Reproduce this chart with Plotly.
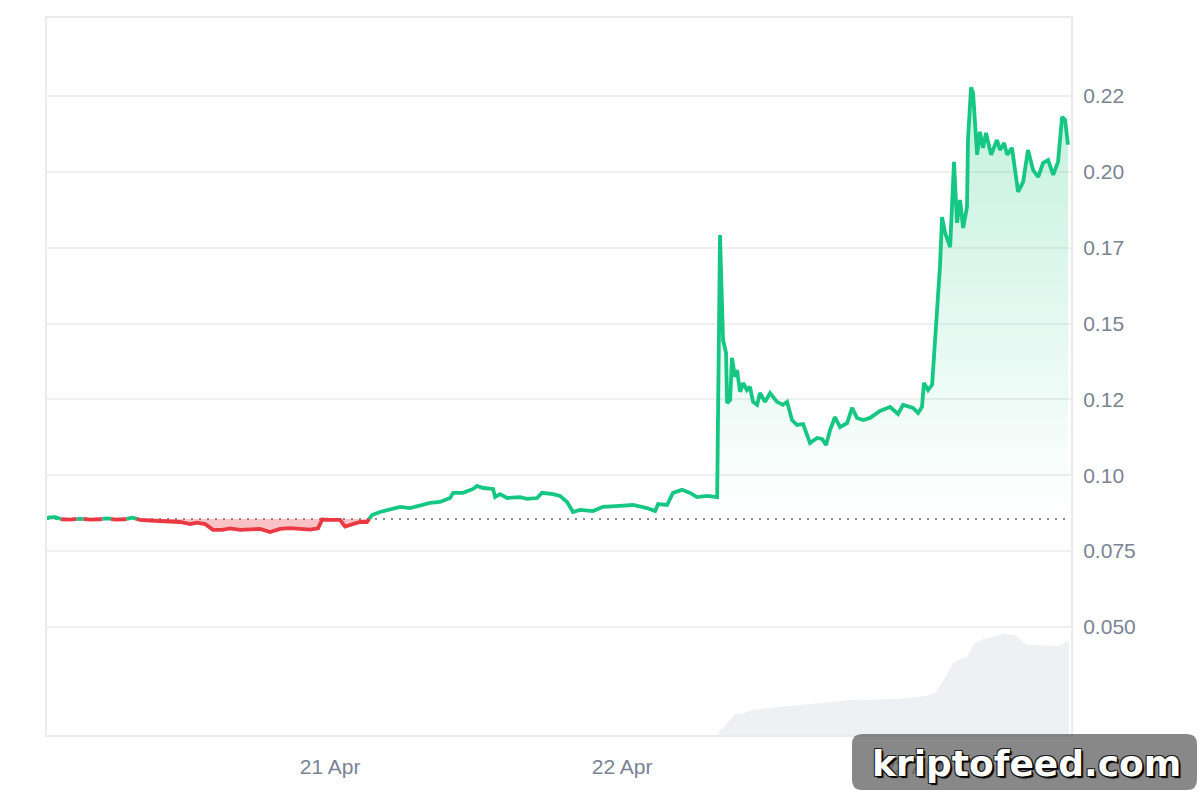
import pandas as pd
import plotly.graph_objects as go

START = pd.Timestamp("2024-04-20 00:00")

# Price series: minutes after 20 Apr 00:00 and price (USD)
price_minutes = [
    44, 84, 118, 158, 207, 256, 306, 340, 380, 429, 464, 503, 552, 602, 651, 700, 750, 784, 824, 863,
    907, 947, 996, 1046, 1095, 1144, 1193, 1243, 1292, 1341, 1381, 1401, 1440, 1489, 1514, 1549, 1588, 1622, 1647,
    1687, 1751, 1785, 1835, 1884, 1933, 1982, 2032, 2047, 2096, 2145, 2165, 2195, 2244, 2254, 2278, 2313, 2377,
    2412, 2461, 2485, 2540, 2574, 2609, 2638, 2673, 2737, 2786, 2870, 2934, 3003, 3043, 3058, 3102, 3131, 3176,
    3215, 3250, 3299, 3349,
    3363, 3378, 3393, 3398, 3413, 3422, 3437, 3447, 3462, 3477, 3496, 3511, 3526, 3546, 3560, 3585, 3610, 3644,
    3674, 3694, 3718, 3743, 3773, 3807, 3842, 3866, 3886, 3906, 3930, 3955, 3990, 4014, 4039, 4069, 4103, 4152,
    4202, 4241, 4266, 4315, 4340, 4359, 4369, 4389, 4409, 4424, 4438, 4448, 4458, 4473, 4498, 4517, 4532, 4547,
    4562, 4581, 4586, 4601, 4611, 4631, 4645, 4660, 4675, 4700, 4729, 4744, 4764, 4779, 4803, 4818, 4833, 4858,
    4882, 4907, 4932, 4956, 4981, 5006, 5030, 5050, 5065, 5079,
]
price_values = [
    0.0860, 0.0862, 0.0855, 0.0854, 0.0857, 0.0854, 0.0855, 0.0858, 0.0854, 0.0855, 0.0860, 0.0853, 0.0851,
    0.0849, 0.0846, 0.0846, 0.0839, 0.0844, 0.0839, 0.0820, 0.0820, 0.0825, 0.0820, 0.0821, 0.0823, 0.0813,
    0.0823, 0.0826, 0.0823, 0.0821, 0.0825, 0.0854, 0.0853, 0.0853, 0.0831, 0.0839, 0.0846, 0.0846, 0.0869,
    0.0879, 0.0889, 0.0896, 0.0892, 0.0899, 0.0909, 0.0912, 0.0925, 0.0942, 0.0942, 0.0955, 0.0965, 0.0958,
    0.0955, 0.0928, 0.0938, 0.0925, 0.0928, 0.0922, 0.0925, 0.0942, 0.0938, 0.0932, 0.0912, 0.0879, 0.0886,
    0.0882, 0.0896, 0.0899, 0.0902, 0.0892, 0.0882, 0.0905, 0.0902, 0.0942, 0.0952, 0.0942, 0.0928, 0.0932,
    0.0928,
    0.1792, 0.1446, 0.1403, 0.1238, 0.1248, 0.1387, 0.1324, 0.1347, 0.1275, 0.1304, 0.1281, 0.1291, 0.1242,
    0.1232, 0.1271, 0.1242, 0.1271, 0.1242, 0.1232, 0.1242, 0.1182, 0.1166, 0.1169, 0.1106, 0.1123, 0.1120,
    0.1100, 0.1149, 0.1192, 0.1159, 0.1172, 0.1222, 0.1189, 0.1182, 0.1189, 0.1212, 0.1225, 0.1202, 0.1232,
    0.1222, 0.1205, 0.1225, 0.1304, 0.1281, 0.1298, 0.1436, 0.1601, 0.1690, 0.1851, 0.1799, 0.1752, 0.2033,
    0.1832, 0.1907, 0.1815, 0.1884, 0.2105, 0.2278, 0.2260, 0.2056, 0.2132, 0.2079, 0.2128, 0.2056, 0.2105,
    0.2072, 0.2095, 0.2056, 0.2079, 0.2006, 0.1934, 0.1967, 0.2072, 0.2006, 0.1983, 0.2029, 0.2039, 0.1990,
    0.2033, 0.2181, 0.2171, 0.2089,
]
baseline_price = 0.0856

# Volume (rolling, arbitrary units in millions)
volume_minutes = [3353, 3363, 3383, 3437, 3477, 3526, 3600, 3723, 3807, 3920, 4004, 4236, 4374, 4424, 4448,
                  4473, 4512, 4537, 4581, 4611, 4646, 4710, 4759, 4818, 4858, 4882, 5040, 5065, 5084]
volume_values = [0, 0.25, 0.4, 1.05, 1.1, 1.25, 1.35, 1.45, 1.55, 1.65, 1.75, 1.8, 1.95, 2.1, 2.5,
                 2.85, 3.6, 3.75, 3.9, 4.5, 4.75, 4.9, 5.05, 5.0, 4.65, 4.5, 4.45, 4.65, 4.75]

y_tick_values = [0.05, 0.075, 0.1, 0.125, 0.15, 0.175, 0.2, 0.225]
y_tick_labels = ["0.050", "0.075", "0.10", "0.12", "0.15", "0.17", "0.20", "0.22"]
x_tick_dates = ["2024-04-21", "2024-04-22", "2024-04-23"]
x_tick_labels = ["21 Apr", "22 Apr", "23 Apr"]

GREEN = "#16c784"
RED = "#ea3943"
TICK_COLOR = "#7a8394"
FONT = "Liberation Sans, Arial, sans-serif"

# ---- build up/down split at baseline crossings ----
times = [START + pd.Timedelta(minutes=m) for m in price_minutes]
tt, pp = [], []
for i, (t, p) in enumerate(zip(times, price_values)):
    if i > 0:
        a, b = price_values[i - 1], p
        if (a - baseline_price) * (b - baseline_price) < 0:
            f = (baseline_price - a) / (b - a)
            tt.append(times[i - 1] + (t - times[i - 1]) * f)
            pp.append(baseline_price)
    tt.append(t)
    pp.append(p)

up_fill = [max(p, baseline_price) for p in pp]
dn_fill = [min(p, baseline_price) for p in pp]
up_line = [p if p >= baseline_price else None for p in pp]
dn_line = [p if p <= baseline_price else None for p in pp]
base_line = [baseline_price] * len(pp)

vol_times = [START + pd.Timedelta(minutes=m) for m in volume_minutes]

fig = go.Figure()

fig.add_trace(go.Scatter(x=vol_times, y=volume_values, yaxis="y2", mode="lines",
                         line=dict(width=0), fill="tozeroy", fillcolor="#eef0f3",
                         hoverinfo="skip"))

fig.add_trace(go.Scatter(x=tt, y=base_line, mode="lines", line=dict(width=0), hoverinfo="skip"))
fig.add_trace(go.Scatter(x=tt, y=up_fill, mode="lines", line=dict(width=0), fill="tonexty",
                         fillgradient=dict(type="vertical", start=baseline_price, stop=0.235,
                                           colorscale=[[0, "rgba(22,199,132,0.0)"],
                                                       [1, "rgba(22,199,132,0.27)"]]),
                         hoverinfo="skip"))
fig.add_trace(go.Scatter(x=tt, y=base_line, mode="lines", line=dict(width=0), hoverinfo="skip"))
fig.add_trace(go.Scatter(x=tt, y=dn_fill, mode="lines", line=dict(width=0), fill="tonexty",
                         fillcolor="rgba(234,57,67,0.30)", hoverinfo="skip"))

fig.add_trace(go.Scatter(x=tt, y=dn_line, mode="lines", line=dict(color=RED, width=3.8),
                         connectgaps=False))
fig.add_trace(go.Scatter(x=tt, y=up_line, mode="lines", line=dict(color=GREEN, width=3.8),
                         connectgaps=False))

# dotted baseline
fig.add_shape(type="line", xref="paper", x0=0, x1=1, yref="y", y0=baseline_price, y1=baseline_price,
              line=dict(color="#8c8c8c", width=2, dash="2px,6px"), layer="below")

# watermark box
def px_x(px):
    return (px - 47) / 1024.0


def px_y(py):
    return (735 - py) / 717.0


x0, x1 = px_x(852), px_x(1197)
y0, y1 = px_y(790), px_y(734)
rx, ry = 10 / 1024.0, 10 / 717.0
path = (f"M {x0+rx},{y1} L {x1-rx},{y1} Q {x1},{y1} {x1},{y1-ry} L {x1},{y0+ry} "
        f"Q {x1},{y0} {x1-rx},{y0} L {x0+rx},{y0} Q {x0},{y0} {x0},{y0+ry} "
        f"L {x0},{y1-ry} Q {x0},{y1} {x0+rx},{y1} Z")
fig.add_shape(type="path", xref="paper", yref="paper", path=path,
              fillcolor="rgba(85,85,85,0.70)", line=dict(width=0), layer="above")
fig.add_annotation(xref="paper", yref="paper", x=px_x(1026), y=px_y(763), text="kriptofeed.com",
                   showarrow=False, xanchor="center", yanchor="middle",
                   font=dict(family="DejaVu Sans, Verdana, sans-serif", size=36, color="white",
                             weight="bold",
                             shadow="2px 2px 1px #000, -1px -1px 0 #222, 1px -1px 0 #222, -1px 1px 0 #222"))

fig.update_layout(
    width=1200, height=800,
    margin=dict(l=47, r=129, t=18, b=65),
    paper_bgcolor="white", plot_bgcolor="white",
    showlegend=False,
    font=dict(family=FONT, size=21, color=TICK_COLOR),
    xaxis=dict(
        type="date",
        range=[START + pd.Timedelta(minutes=44), START + pd.Timedelta(minutes=5094)],
        showgrid=False, zeroline=False,
        showline=True, linecolor="#ebebeb", linewidth=2, mirror=True,
        tickvals=x_tick_dates, ticktext=x_tick_labels,
        ticks="outside", ticklen=12, tickcolor="rgba(0,0,0,0)",
        tickfont=dict(family=FONT, size=21, color=TICK_COLOR),
    ),
    yaxis=dict(
        side="right",
        range=[0.0144, 0.2507],
        showgrid=True, gridcolor="#efefef", gridwidth=1.5, zeroline=False,
        showline=True, linecolor="#ebebeb", linewidth=2, mirror=True,
        tickvals=y_tick_values, ticktext=y_tick_labels,
        ticks="outside", ticklen=6, tickcolor="rgba(0,0,0,0)",
        tickfont=dict(family=FONT, size=21, color=TICK_COLOR),
    ),
    yaxis2=dict(overlaying="y", range=[0, 35.85], visible=False),
)

fig.write_html("out.html")
